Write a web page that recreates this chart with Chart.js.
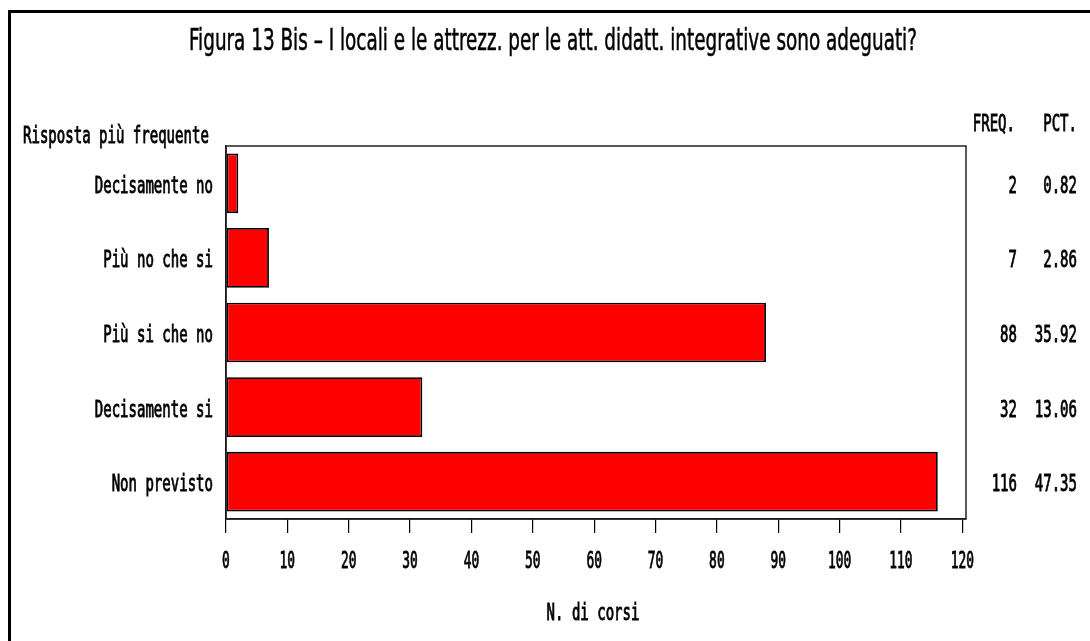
<!DOCTYPE html>
<html>
<head>
<meta charset="utf-8">
<script src="https://cdn.jsdelivr.net/npm/chart.js@4.4.1/dist/chart.umd.min.js"></script>
<style>
  body { margin: 0; background: #fff; }
  canvas { display: block; }
</style>
</head>
<body>
<canvas id="chart" width="1090" height="641"></canvas>
<script>
const categories = ['Decisamente no', 'Più no che si', 'Più si che no', 'Decisamente si', 'Non previsto'];
const freq = [2, 7, 88, 32, 116];
const pct = [0.82, 2.86, 35.92, 13.06, 47.35];
const xTicks = [0, 10, 20, 30, 40, 50, 60, 70, 80, 90, 100, 110, 120];

const titleText = 'Figura 13 Bis \u2013 I locali e le attrezz. per le att. didatt. integrative sono adeguati?';
const titleFont = '"Liberation Sans Narrow", "DejaVu Sans Condensed", sans-serif';
const monoFont = '"DejaVu Sans Mono", "Liberation Mono", monospace';

// the original uses a tall, narrow face: draw text squeezed horizontally,
// with a light outline to thicken the strokes a little
function squeezed(c, text, x, y, align, font, sx, weight) {
    c.save();
    c.font = font;
    c.textBaseline = 'middle';
    c.textAlign = align;
    c.translate(x, y);
    c.scale(sx, 1);
    c.fillText(text, 0, 0);
    c.lineWidth = weight;
    c.strokeStyle = '#000';
    c.strokeText(text, 0, 0);
    c.restore();
}

const extras = {
    id: 'extras',
    beforeDraw(chart) {
        const c = chart.ctx;
        c.save();
        c.fillStyle = '#fff';
        c.fillRect(0, 0, chart.width, chart.height);
        c.strokeStyle = '#000';
        c.lineWidth = 3;
        c.strokeRect(9.5, 11.5, chart.width + 20, chart.height + 20);
        c.restore();
    },
    afterDraw(chart) {
        const c = chart.ctx;
        const a = chart.chartArea;
        const x = chart.scales.x;
        const y = chart.scales.y;
        c.save();
        c.fillStyle = '#000';

        // title fitted to the width of the original
        const tf = '30px ' + titleFont;
        c.font = tf;
        const w = c.measureText(titleText).width;
        squeezed(c, titleText, 189, 42, 'left', tf, 728 / w, 0.5);

        const lf = '23px ' + monoFont, sx = 0.61, wt = 0.9;
        squeezed(c, 'Risposta più frequente', 23, 137, 'left', lf, sx, wt);
        squeezed(c, 'FREQ.', 1015, 125, 'right', lf, sx, wt);
        squeezed(c, 'PCT.', 1077, 125, 'right', lf, sx, wt);

        categories.forEach((cat, i) => {
            const py = y.getPixelForValue(i) + 3.5;
            squeezed(c, cat, a.left - 13, py, 'right', lf, sx, wt);
            squeezed(c, String(freq[i]), 1017, py, 'right', lf, sx, wt);
            squeezed(c, pct[i].toFixed(2), 1077, py, 'right', lf, sx, wt);
        });

        xTicks.forEach(v => {
            squeezed(c, String(v), x.getPixelForValue(v), 562, 'center', lf, 0.56, wt);
        });
        squeezed(c, 'N. di corsi', (a.left + a.right) / 2 - 3, 614, 'center', lf, sx, wt);

        // plot box
        c.strokeStyle = '#222';
        c.lineWidth = 1.5;
        c.strokeRect(a.left, a.top, a.right - a.left, a.bottom - a.top);
        c.restore();
    }
};

new Chart(document.getElementById('chart').getContext('2d'), {
    type: 'bar',
    data: {
        labels: categories,
        datasets: [{
            data: freq,
            backgroundColor: '#ff0000',
            borderColor: '#000',
            borderWidth: 1.8,
            borderSkipped: false,
            barPercentage: 1,
            categoryPercentage: 0.8
        }]
    },
    options: {
        indexAxis: 'y',
        responsive: false,
        animation: false,
        layout: { padding: { top: 146, right: 124, bottom: 0, left: 0 } },
        plugins: {
            legend: { display: false },
            tooltip: { enabled: false }
        },
        scales: {
            x: {
                min: 0,
                max: 120.6,
                afterBuildTicks: s => { s.ticks = xTicks.map(v => ({ value: v })); },
                afterFit: s => { s.height = 122; },
                grid: { drawOnChartArea: false, drawTicks: true, tickLength: 14, color: '#000', lineWidth: 1.2 },
                border: { display: true, color: '#000', width: 1.5 },
                ticks: { display: false }
            },
            y: {
                afterFit: s => { s.width = 226; },
                grid: { display: false, drawTicks: false },
                border: { display: true, color: '#000', width: 1.5 },
                ticks: { display: false }
            }
        }
    },
    plugins: [extras]
});
</script>
</body>
</html>
